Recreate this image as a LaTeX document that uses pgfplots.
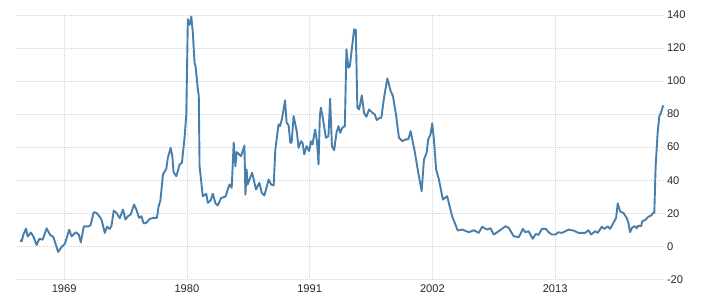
\documentclass[border=0pt]{standalone}
\usepackage{fontspec}
\setmainfont{Liberation Sans}
\usepackage{pgfplots}
\pgfplotsset{compat=1.18}
\definecolor{lineblue}{RGB}{70,126,172}
\definecolor{gridgray}{RGB}{212,212,212}
\definecolor{labelgray}{RGB}{40,40,40}
\begin{document}
\begin{tikzpicture}
\begin{axis}[
  name=ax,
  at={(0,0)}, anchor=south west,
  scale only axis,
  width=647bp, height=264.3bp,
  xmin=1964.77, xmax=2022.75,
  ymin=-20, ymax=140,
  xtick={1969,1980,1991,2002,2013},
  xticklabels={1969,1980,1991,2002,2013},
  ytick={-20,0,20,40,60,80,100,120,140},
  yticklabel pos=right,
  axis line style={draw=none},
  major tick length=0pt,
  grid=major,
  major grid style={gridgray, dash pattern=on 0.8bp off 1.2bp, line width=0.7bp},
  tick label style={font=\fontsize{11.2}{13}\selectfont, text=labelgray},
  yticklabel style={anchor=west, xshift=-0.5bp},
  xticklabel style={anchor=north, yshift=-2bp},
  /pgf/number format/assume math mode=true,
  clip=false,
]
\addplot[lineblue, line width=1.9bp, line join=round] coordinates {
(1965.04,3.6) (1965.19,3) (1965.34,7) (1965.58,10.7) (1965.73,5.9) (1966.02,8.3)
(1966.23,6) (1966.53,0.8) (1966.77,4.5) (1967.07,4) (1967.43,10.9) (1967.72,7)
(1968.02,5.7) (1968.46,-3.4) (1968.77,-0.4) (1969.06,1.5) (1969.45,10) (1969.66,6)
(1970.05,8.5) (1970.31,7) (1970.49,2.4) (1970.76,12) (1971.14,12) (1971.36,12.7)
(1971.65,20.6) (1971.90,20.2) (1972.19,17.8) (1972.34,16.2) (1972.64,8.1) (1972.84,11.8)
(1973.08,10.5) (1973.24,12.5) (1973.44,21.6) (1973.68,20.2) (1973.98,17) (1974.27,22.2)
(1974.49,16.2) (1974.72,18.2) (1974.96,19.2) (1975.26,25.3) (1975.47,22.2) (1975.70,17.2)
(1975.92,18.2) (1976.12,13.8) (1976.36,14.2) (1976.66,16.6) (1977.02,17.2) (1977.31,17.2)
(1977.46,24.2) (1977.62,27.7) (1977.85,43.5) (1978.15,46.9) (1978.29,53.6) (1978.54,59.6)
(1978.69,54.5) (1978.80,44.8) (1979.05,42.4) (1979.34,49.5) (1979.55,50.5) (1979.79,66)
(1979.94,79.8) (1980.08,137.4) (1980.23,134) (1980.39,139) (1980.53,129) (1980.68,111)
(1980.77,109) (1980.98,95) (1981.06,91) (1981.13,48.5) (1981.42,30.3) (1981.73,31.8)
(1981.87,26.3) (1982.11,27.7) (1982.32,31.8) (1982.56,25.9) (1982.76,24.7) (1983.07,29.3)
(1983.45,30) (1983.81,37.4) (1984.01,35.4) (1984.19,62.7) (1984.34,48.5) (1984.46,57)
(1984.85,54.5) (1985.15,61) (1985.24,31.3) (1985.35,46.5) (1985.44,37.4) (1985.84,44.5)
(1986.19,34.4) (1986.49,38.4) (1986.70,32.4) (1986.94,30.7) (1987.32,40.4) (1987.54,37.4)
(1987.77,36.8) (1987.92,58.6) (1988.21,73.8) (1988.34,72.7) (1988.52,77.2) (1988.79,88.3)
(1988.93,74.8) (1989.11,73.2) (1989.26,62.7) (1989.38,62.7) (1989.56,78.8) (1989.71,73.8)
(1989.86,68.7) (1990.00,59.6) (1990.22,63.6) (1990.36,62.7) (1990.51,55.6) (1990.72,60.6)
(1990.96,57.6) (1991.11,63.6) (1991.25,61.6) (1991.49,70.7) (1991.65,63.6) (1991.79,49.5)
(1991.91,78.8) (1992.00,83.9) (1992.15,78.8) (1992.45,65.7) (1992.68,66.7) (1992.83,89.3)
(1992.99,60.6) (1993.19,58.2) (1993.40,68.7) (1993.58,72.7) (1993.73,68.7) (1993.93,71.8)
(1994.15,72.7) (1994.29,119.2) (1994.47,108.1) (1994.60,109) (1994.77,119.2) (1994.98,131.3)
(1995.13,130.9) (1995.27,83.9) (1995.43,82.8) (1995.67,91.3) (1995.87,80.8) (1996.08,78.4)
(1996.32,82.8) (1996.62,80.8) (1996.83,79.8) (1997.01,76.4) (1997.28,77.8) (1997.42,77.8)
(1997.66,89.9) (1997.96,101.6) (1998.26,93.9) (1998.46,90.9) (1998.71,80.8) (1999.00,65.7)
(1999.30,63.6) (1999.60,64.7) (1999.83,64.7) (2000.05,69.7) (2000.19,64.7) (2000.43,56.6)
(2000.73,44.5) (2001.03,33.3) (2001.24,52.5) (2001.48,56.6) (2001.62,64.7) (2001.83,67.7)
(2001.98,74.4) (2002.13,64.7) (2002.33,46.5) (2002.58,40.4) (2002.93,28.3) (2003.32,30.3)
(2003.76,18.2) (2004.27,9.5) (2004.66,10.1) (2005.26,8.5) (2005.70,9.7) (2006.15,8.1)
(2006.45,11.8) (2006.89,10.1) (2007.20,10.9) (2007.49,7.1) (2007.94,9.1) (2008.54,12.1)
(2008.83,11.2) (2009.28,6.1) (2009.73,5.5) (2010.11,10.5) (2010.32,8.5) (2010.62,9.1)
(2010.98,4.5) (2011.27,7.5) (2011.51,6.9) (2011.81,10.5) (2012.17,10.5) (2012.41,8.5)
(2012.70,7.1) (2013.01,7.1) (2013.30,8.5) (2013.60,8.1) (2014.19,10.1) (2014.64,9.5)
(2015.09,8.1) (2015.69,8.1) (2015.98,9.7) (2016.22,7.1) (2016.58,9.1) (2016.81,8.1)
(2017.17,11.8) (2017.41,10.5) (2017.71,12.1) (2017.92,10.5) (2018.22,14.2) (2018.46,17.2)
(2018.60,25.9) (2018.81,21.2) (2019.11,20.2) (2019.40,17.2) (2019.56,14.2) (2019.71,8.5)
(2019.91,11.5) (2020.16,12.1) (2020.30,10.9) (2020.45,12.5) (2020.69,12.1) (2020.81,15.2)
(2021.05,15.8) (2021.34,17.8) (2021.59,18.6) (2021.79,20.2) (2021.88,20.2) (2022.00,48.5)
(2022.18,68.7) (2022.33,78.8) (2022.48,80.8) (2022.68,85.3)
};
\end{axis}
\path (ax.south west) ++(-17bp,-23.7bp) coordinate (bbsw);
\path (ax.south west) ++(691bp,279.3bp) coordinate (bbne);
\path (bbsw) rectangle (bbne);
\end{tikzpicture}
\end{document}
